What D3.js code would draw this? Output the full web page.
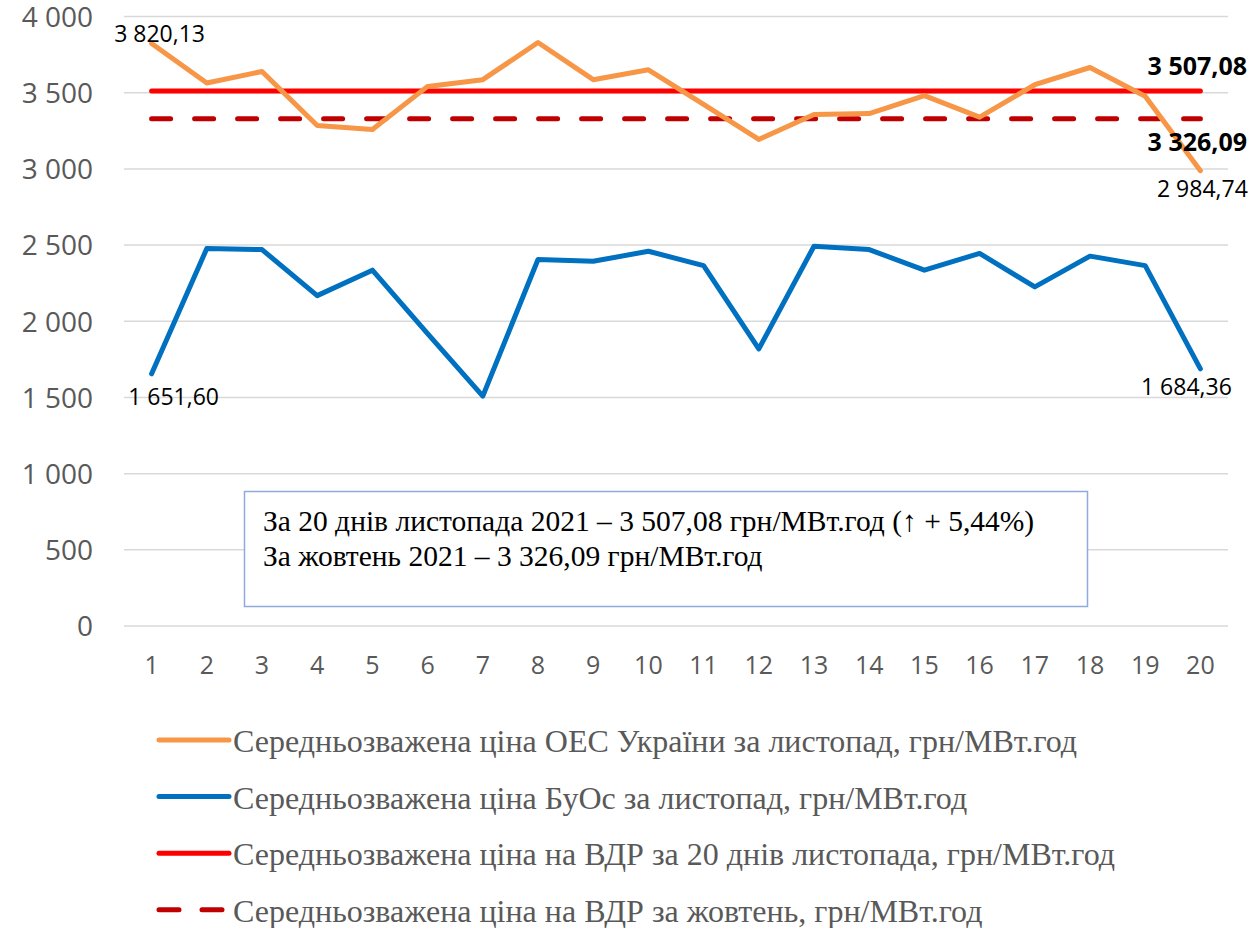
<!DOCTYPE html>
<meta charset="utf-8">
<style type="text/css">
    body { margin: 0; background: #fff; }
    .grid line { stroke: #d9d9d9; stroke-width: 1.5; }
    .grid path { display: none; }
    .tick-label { font-family: "Open Sans", sans-serif; fill: #595959; }
    .line { fill: none; stroke-width: 5; stroke-linejoin: round; stroke-linecap: round; }
    .dlabel { font-family: "Open Sans", sans-serif; font-size: 23px; fill: #000; }
    .legend text { font-family: "Liberation Serif", "Times New Roman", serif; font-size: 32px; fill: #595959; }
    .note text { font-family: "Liberation Serif", "Times New Roman", serif; font-size: 29.5px; fill: #000; }
</style>
<body>
</body>
<script src="https://d3js.org/d3.v7.min.js"></script>
<script>

    var width = 1254, height = 928;

    // days of November
    var days = d3.range(1, 21);

    // weighted avg price of the Ukrainian power system (orange)
    var oesPrice = [3820.13, 3560, 3636, 3281, 3255, 3538, 3582, 3826, 3582, 3647,
                    3420, 3190, 3353, 3360, 3477, 3336, 3549, 3662, 3473, 2984.74];

    // weighted avg price of BuOs (blue)
    var buosPrice = [1651.60, 2474, 2467, 2165, 2332, 1915, 1505, 2402, 2390, 2456,
                     2362, 1815, 2489, 2467, 2332, 2442, 2222, 2424, 2362, 1684.36];

    var novAvg = 3507.08;   // 20 days of November
    var octAvg = 3326.09;   // October

    var yTicks = [0, 500, 1000, 1500, 2000, 2500, 3000, 3500, 4000];

    var legendNames = [
        "Середньозважена ціна ОЕС України за листопад, грн/МВт.год",
        "Середньозважена ціна БуОс за листопад, грн/МВт.год",
        "Середньозважена ціна на ВДР за 20 днів листопада, грн/МВт.год",
        "Середньозважена ціна на ВДР за жовтень, грн/МВт.год"
    ];

    var noteLines = [
        "За 20 днів листопада 2021 – 3 507,08 грн/МВт.год (↑ + 5,44%)",
        "За жовтень 2021 – 3 326,09 грн/МВт.год"
    ];

    var loc = d3.formatLocale({decimal: ",", thousands: "\u00a0", grouping: [3], currency: ["", ""]});
    var fmtInt = loc.format(",.0f");
    var fmt2 = loc.format(",.2f");

    var series = [
        {name: legendNames[0], values: oesPrice, color: "#F79646", dash: null},
        {name: legendNames[1], values: buosPrice, color: "#0070C0", dash: null},
        {name: legendNames[2], values: days.map(function() { return novAvg; }), color: "#FF0000", dash: null},
        {name: legendNames[3], values: days.map(function() { return octAvg; }), color: "#C00000", dash: "19,24"}
    ];

    var svg = d3.select("body").append("svg")
        .attr("width", width)
        .attr("height", height);

    var xScale = d3.scaleBand()
        .domain(days)
        .range([124, 1228]);

    var yScale = d3.scaleLinear()
        .domain([0, 4000])
        .range([625.5, 16]);

    function px(d) { return xScale(d) + xScale.bandwidth() / 2; }

    // horizontal gridlines
    svg.append("g")
        .attr("class", "grid")
        .attr("transform", "translate(124,0)")
        .call(d3.axisLeft(yScale).tickValues(yTicks).tickSize(-1104).tickFormat(""));

    // y labels
    svg.selectAll(".ylab")
        .data(yTicks)
        .enter().append("text")
        .attr("class", "tick-label")
        .attr("x", 93)
        .attr("y", function(d) { return yScale(d) + 1; })
        .attr("dy", "0.35em")
        .attr("text-anchor", "end")
        .style("font-size", "28px")
        .text(function(d) { return fmtInt(d); });

    // x labels
    svg.selectAll(".xlab")
        .data(days)
        .enter().append("text")
        .attr("class", "tick-label")
        .attr("x", px)
        .attr("y", 665)
        .attr("dy", "0.35em")
        .attr("text-anchor", "middle")
        .style("font-size", "25px")
        .text(function(d) { return d; });

    var line = d3.line()
        .x(function(d, i) { return px(days[i]); })
        .y(function(d) { return yScale(d); });

    // draw reference lines first, then price lines
    [3, 2, 1, 0].forEach(function(k) {
        var s = series[k];
        svg.append("path")
            .datum(s.values)
            .attr("class", "line")
            .attr("stroke", s.color)
            .attr("stroke-dasharray", s.dash)
            .attr("d", line);
    });

    // data labels
    var last = days.length - 1;
    var labels = [
        {x: px(days[0]) + 8, y: yScale(oesPrice[0]) - 1, t: fmt2(oesPrice[0]), a: "middle", b: false},
        {x: px(days[last]) + 2, y: yScale(oesPrice[last]) + 26, t: fmt2(oesPrice[last]), a: "middle", b: false},
        {x: px(days[0]) + 22, y: yScale(buosPrice[0]) + 31, t: fmt2(buosPrice[0]), a: "middle", b: false},
        {x: px(days[last]) - 14, y: yScale(buosPrice[last]) + 26, t: fmt2(buosPrice[last]), a: "middle", b: false},
        {x: 1247, y: yScale(novAvg) - 16, t: fmt2(novAvg), a: "end", b: true},
        {x: 1247, y: yScale(octAvg) + 32, t: fmt2(octAvg), a: "end", b: true}
    ];

    svg.selectAll(".dlabel")
        .data(labels)
        .enter().append("text")
        .attr("class", "dlabel")
        .attr("x", function(d) { return d.x; })
        .attr("y", function(d) { return d.y; })
        .attr("text-anchor", function(d) { return d.a; })
        .style("font-weight", function(d) { return d.b ? "bold" : "normal"; })
        .style("font-size", function(d) { return d.b ? "25px" : null; })
        .text(function(d) { return d.t; });

    // note box
    var note = svg.append("g").attr("class", "note");
    note.append("rect")
        .attr("x", 244.5)
        .attr("y", 491.5)
        .attr("width", 843)
        .attr("height", 115)
        .attr("fill", "#fff")
        .attr("stroke", "#8FAADC")
        .attr("stroke-width", 1.5);

    note.selectAll("text")
        .data(noteLines)
        .enter().append("text")
        .attr("x", 263)
        .attr("y", function(d, i) { return 531 + i * 35; })
        .text(function(d) { return d; });

    // legend
    var legend = svg.append("g").attr("class", "legend");
    var items = legend.selectAll("g")
        .data(series)
        .enter().append("g")
        .attr("transform", function(d, i) { return "translate(0," + (740 + i * 56.6) + ")"; });

    items.append("line")
        .attr("x1", 159)
        .attr("x2", 229)
        .attr("stroke", function(d) { return d.color; })
        .attr("stroke-width", 5)
        .attr("stroke-linecap", "round")
        .attr("stroke-dasharray", function(d) { return d.dash ? "20,23" : null; });

    items.append("text")
        .attr("x", 233)
        .attr("y", 12)
        .text(function(d) { return d.name; });

</script>
